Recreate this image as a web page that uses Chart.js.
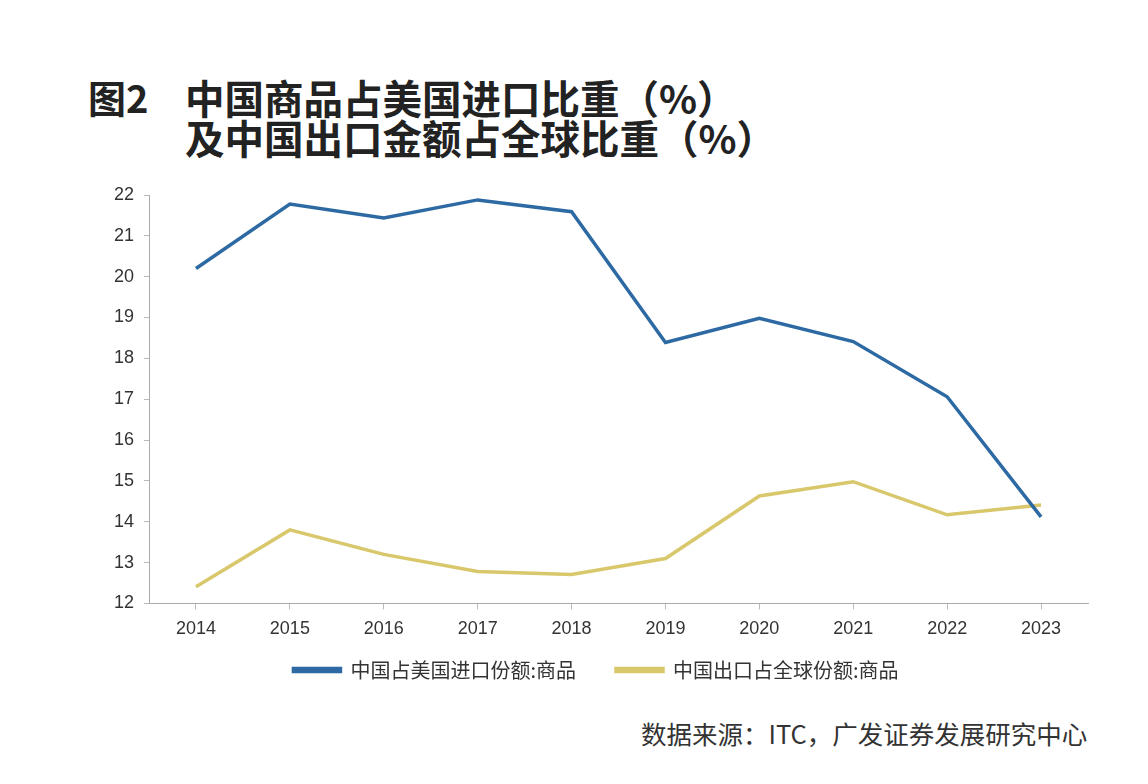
<!DOCTYPE html>
<html>
<head>
<meta charset="utf-8">
<script src="https://cdn.jsdelivr.net/npm/chart.js@4"></script>
<style>
  body { margin: 0; width: 1148px; height: 784px; background: #fff; position: relative; overflow: hidden; font-family: "Noto Sans CJK SC", sans-serif; }
  .title { position: absolute; font-weight: bold; font-size: 39.5px; color: #222; line-height: 40px; white-space: nowrap; }
  #fig { left: 88px; top: 77px; font-size: 38px; }
  #t1 { left: 185px; top: 77px; }
  #t2 { left: 185px; top: 117px; }
  #src { position: absolute; left: 641px; top: 714px; font-size: 25.5px; color: #333; white-space: nowrap; }
  #wrap { position: absolute; left: 0; top: 170px; width: 1148px; height: 520px; }
</style>
</head>
<body>
<div class="title" id="fig">图2</div>
<div class="title" id="t1">中国商品占美国进口比重（%）</div>
<div class="title" id="t2">及中国出口金额占全球比重（%）</div>
<div id="wrap"><canvas id="chart"></canvas></div>
<div id="src">数据来源：ITC，广发证券发展研究中心</div>
<script>
const years = ['2014', '2015', '2016', '2017', '2018', '2019', '2020', '2021', '2022', '2023'];
const usImportShare = [20.2, 21.78, 21.44, 21.88, 21.59, 18.39, 18.98, 18.41, 17.06, 14.12];
const globalExportShare = [12.41, 13.8, 13.2, 12.78, 12.71, 13.1, 14.63, 14.98, 14.17, 14.41];
const seriesNames = ['中国占美国进口份额:商品', '中国出口占全球份额:商品'];

const blue = '#2d6aa3';
const yellow = '#d9c76b';
const tickFont = { family: '"Liberation Sans", Arial, sans-serif', size: 18 };

new Chart(document.getElementById('chart'), {
    type: 'line',
    data: {
        labels: years,
        datasets: [{
            label: seriesNames[0],
            data: usImportShare,
            borderColor: blue,
            backgroundColor: blue,
            borderWidth: 3.5,
            pointRadius: 0,
            tension: 0
        }, {
            label: seriesNames[1],
            data: globalExportShare,
            borderColor: yellow,
            backgroundColor: yellow,
            borderWidth: 3.5,
            pointRadius: 0,
            tension: 0
        }]
    },
    options: {
        responsive: true,
        maintainAspectRatio: false,
        animation: false,
        layout: { padding: { left: 104, right: 60, top: 25, bottom: 0 } },
        plugins: {
            tooltip: { enabled: false },
            legend: {
                position: 'bottom',
                labels: {
                    boxWidth: 47,
                    boxHeight: 3,
                    padding: 20,
                    color: '#333',
                    font: { family: '"Noto Sans CJK SC", sans-serif', size: 20 },
                    generateLabels: (chart) => {
                        const items = Chart.defaults.plugins.legend.labels.generateLabels(chart);
                        // wider gap between the two entries
                        items[0].text += '\u3000';
                        return items;
                    }
                }
            }
        },
        scales: {
            x: {
                offset: true,
                grid: { drawOnChartArea: false, tickLength: 6, color: '#bbb' },
                border: { color: '#aaa' },
                ticks: { color: '#333', padding: 9, font: tickFont },
                afterFit: (scale) => { scale.height -= 9; }
            },
            y: {
                min: 12,
                max: 22,
                ticks: { stepSize: 1, color: '#333', padding: 10, font: tickFont },
                grid: { drawOnChartArea: false, tickLength: 5, color: '#bbb' },
                border: { color: '#aaa' }
            }
        }
    }
});
</script>
</body>
</html>
